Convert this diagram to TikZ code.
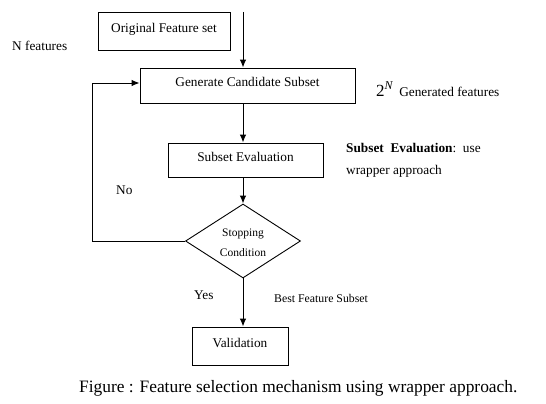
\documentclass[tikz,border=0pt]{standalone}
\usepackage{fontspec}
\setmainfont{Liberation Serif}
\usetikzlibrary{shapes.geometric,arrows.meta}
\begin{document}
\begin{tikzpicture}[x=1pt,y=-1pt,
  box/.style={draw,line width=0.9pt,inner sep=0pt,text height=9pt,text depth=6.5pt,font=\fontsize{13.3}{15}\selectfont},
  arr/.style={line width=1pt,-{Latex[length=8pt,width=6.5pt]}},
  lbl/.style={inner sep=0pt,anchor=base west,font=\fontsize{13.3}{15}\selectfont}]
\useasboundingbox (0,0) rectangle (546,404);
\fill[white] (0,0) rectangle (546,404);
\node[box,minimum width=132pt,minimum height=38pt] (orig) at (164,31) {Original Feature set};
\node[box,minimum width=215pt,minimum height=35pt] (gen) at (247.5,85.5) {Generate Candidate Subset};
\node[box,minimum width=155pt,minimum height=34pt] (se) at (245.5,160) {Subset Evaluation};
\node[draw,line width=0.9pt,inner sep=0pt,diamond,aspect=1.55,minimum width=115pt,minimum height=74pt,align=center,font=\fontsize{11.5}{20}\selectfont] (stop) at (243,241) {\rule{0pt}{11pt}Stopping\\Condition};
\node[box,minimum width=96pt,minimum height=38pt] (val) at (240,346) {Validation};
\coordinate (top) at (243,12);
\coordinate (ax) at (243,0);
\coordinate (fb) at (92,0);
\draw[arr] (top) -- (gen.north -| ax);
\draw[arr] (gen.south -| ax) -- (se.north -| ax);
\draw[arr] (se.south -| ax) -- (stop.north);
\draw[arr] (stop.south) -- (val.north -| stop.south);
\draw[arr] (stop.west) -- (stop.west -| fb) -- ([yshift=2.5pt]gen.west -| fb) -- ([yshift=2.5pt]gen.west);
\node[lbl] (nf) at (12,51) {N features};
\node[lbl] (twon) at (376,96) {\fontsize{17}{19}\selectfont 2\textsuperscript{\itshape N}\,\fontsize{13.3}{15}\selectfont\ Generated features};
\node[lbl,align=left,font=\fontsize{13.3}{22}\selectfont] (sel) at (346,174) {\textbf{Subset\ \ Evaluation}:\ \ use\\wrapper approach};
\node[lbl] (no) at (116,194) {No};
\node[lbl] (yes) at (194,299) {Yes};
\node[lbl,font=\fontsize{11.8}{14}\selectfont] (best) at (274,302) {Best Feature Subset};
\node[lbl,font=\fontsize{17.4}{19}\selectfont] (cap) at (79,392) {Figure : Feature selection mechanism using wrapper approach.};
\end{tikzpicture}
\end{document}
